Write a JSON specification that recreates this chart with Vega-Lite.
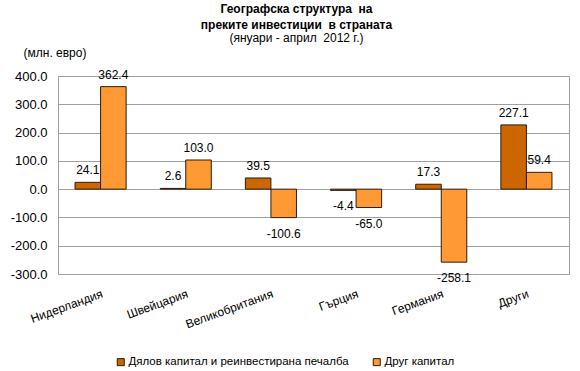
{
  "$schema": "https://vega.github.io/schema/vega-lite/v6.json",
  "width": 511,
  "height": 198,
  "autosize": {"type": "none"},
  "padding": {"left": 58, "top": 76, "right": 11, "bottom": 97},
  "background": "white",
  "config": {
    "font": "Liberation Sans",
    "locale": {"number": {"decimal": ".", "thousands": ",", "grouping": [3], "currency": ["$", ""], "minus": "-"}},
    "view": {"stroke": "#a0a0a0", "strokeWidth": 1}
  },
  "title": {
    "text": ["Географска структура\u00a0 на", "преките инвестиции\u00a0 в страната"],
    "subtitle": "(януари - април\u00a0 2012 г.)",
    "anchor": "middle",
    "dx": -17,
    "font": "Liberation Sans",
    "fontSize": 12,
    "fontWeight": "bold",
    "color": "black",
    "lineHeight": 16,
    "subtitleFont": "Liberation Sans",
    "subtitleFontSize": 12,
    "subtitleColor": "black",
    "subtitlePadding": 1,
    "subtitleLineHeight": 14,
    "offset": 1
  },
  "data": {
    "values": [
      {"country": "Нидерландия", "series": "Дялов капитал и реинвестирана печалба", "value": 24.1},
      {"country": "Нидерландия", "series": "Друг капитал", "value": 362.4},
      {"country": "Швейцария", "series": "Дялов капитал и реинвестирана печалба", "value": 2.6},
      {"country": "Швейцария", "series": "Друг капитал", "value": 103.0},
      {"country": "Великобритания", "series": "Дялов капитал и реинвестирана печалба", "value": 39.5},
      {"country": "Великобритания", "series": "Друг капитал", "value": -100.6},
      {"country": "Гърция", "series": "Дялов капитал и реинвестирана печалба", "value": -4.4},
      {"country": "Гърция", "series": "Друг капитал", "value": -65.0},
      {"country": "Германия", "series": "Дялов капитал и реинвестирана печалба", "value": 17.3},
      {"country": "Германия", "series": "Друг капитал", "value": -258.1},
      {"country": "Други", "series": "Дялов капитал и реинвестирана печалба", "value": 227.1},
      {"country": "Други", "series": "Друг капитал", "value": 59.4}
    ]
  },
  "encoding": {
    "x": {
      "field": "country",
      "type": "nominal",
      "sort": null,
      "scale": {"paddingInner": 0, "paddingOuter": 0},
      "axis": {
        "title": null,
        "labelAngle": -20,
        "labelAlign": "right",
        "labelBaseline": "top",
        "labelFontSize": 12,
        "labelColor": "black",
        "labelPadding": 14,
        "ticks": false,
        "domain": false,
        "grid": false
      }
    },
    "xOffset": {
      "field": "series",
      "type": "nominal",
      "sort": ["Дялов капитал и реинвестирана печалба", "Друг капитал"],
      "scale": {"paddingInner": 0, "paddingOuter": 0.667}
    },
    "y": {
      "field": "value",
      "type": "quantitative",
      "scale": {"domain": [-300, 400], "nice": false, "zero": false},
      "axis": {
        "title": "(млн. евро)",
        "titleAngle": 0,
        "titleX": -35,
        "titleY": -24,
        "titleAlign": "left",
        "titleBaseline": "middle",
        "titleFontWeight": "normal",
        "titleFontSize": 12,
        "titleColor": "black",
        "values": [-300, -200, -100, 0, 100, 200, 300, 400],
        "format": ".1f",
        "labelFontSize": 13,
        "labelColor": "black",
        "labelPadding": 11,
        "ticks": false,
        "domain": false,
        "grid": true,
        "gridColor": "#a0a0a0",
        "gridOpacity": 1
      }
    }
  },
  "layer": [
    {
      "mark": {"type": "bar", "stroke": "#2b1d0e", "strokeWidth": 1},
      "encoding": {
        "color": {
          "field": "series",
          "type": "nominal",
          "sort": ["Дялов капитал и реинвестирана печалба", "Друг капитал"],
          "scale": {"domain": ["Дялов капитал и реинвестирана печалба", "Друг капитал"], "range": ["#CC6600", "#FF9933"]},
          "legend": {
            "title": null,
            "orient": "none",
            "legendX": 57,
            "legendY": 280,
            "direction": "horizontal",
            "symbolType": "square",
            "symbolSize": 49,
            "symbolStrokeColor": "#2b1d0e",
            "symbolStrokeWidth": 1,
            "labelFontSize": 11.5,
            "labelColor": "black",
            "labelOffset": 2,
            "labelLimit": 400,
            "columnPadding": 22
          }
        }
      }
    },
    {
      "transform": [{"filter": "datum.value >= 0"}],
      "mark": {"type": "text", "dy": -12, "baseline": "middle", "align": "center", "fontSize": 12, "color": "black"},
      "encoding": {"text": {"field": "value", "type": "quantitative", "format": ".1f"}}
    },
    {
      "transform": [{"filter": "datum.value < 0"}],
      "mark": {"type": "text", "dy": 16, "baseline": "middle", "align": "center", "fontSize": 12, "color": "black"},
      "encoding": {"text": {"field": "value", "type": "quantitative", "format": ".1f"}}
    }
  ]
}
